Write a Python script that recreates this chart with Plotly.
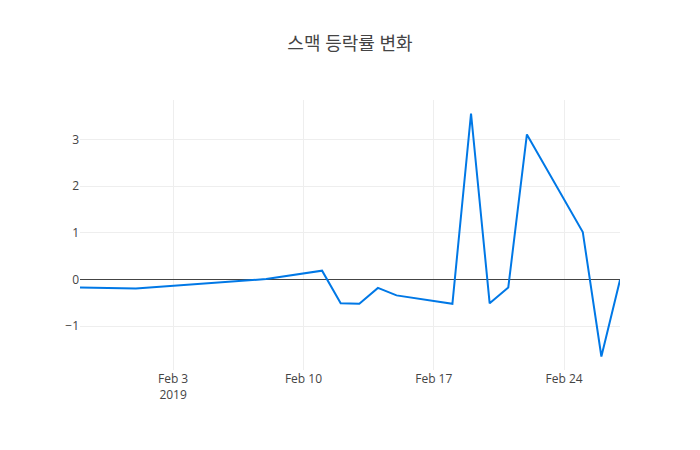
import plotly.graph_objects as go

dates = ["2019-01-29", "2019-02-01", "2019-02-08", "2019-02-11", "2019-02-12",
         "2019-02-13", "2019-02-14", "2019-02-15", "2019-02-18", "2019-02-19",
         "2019-02-20", "2019-02-21", "2019-02-22", "2019-02-25", "2019-02-26",
         "2019-02-27"]
change_pct = [-0.17, -0.19, 0.01, 0.19, -0.51, -0.52, -0.18, -0.34, -0.52, 3.56,
              -0.51, -0.17, 3.11, 1.02, -1.65, -0.01]

fig = go.Figure()
fig.add_trace(go.Scatter(x=dates, y=change_pct, mode="lines",
                         line=dict(color="rgb(0,120,230)", width=2)))

fig.update_layout(
    template="none",
    width=700, height=450,
    title=dict(text="스맥 등락률 변화", x=0.5, xanchor="center",
               font=dict(size=18, color="#444")),
    font=dict(family="Open Sans, Noto Sans CJK KR, sans-serif", size=12, color="#444"),
    margin=dict(l=80, r=80, t=100, b=80),
    paper_bgcolor="white", plot_bgcolor="white",
    xaxis=dict(showgrid=True, gridcolor="#eee", zeroline=False, showline=False,
               ticks=""),
    yaxis=dict(showgrid=True, gridcolor="#eee", zeroline=True, zerolinecolor="#444",
               zerolinewidth=1, showline=False, ticks=""),
    showlegend=False,
)

fig.write_html("out.html", config={"displayModeBar": False},
               post_script="document.body.style.margin='0px';")
